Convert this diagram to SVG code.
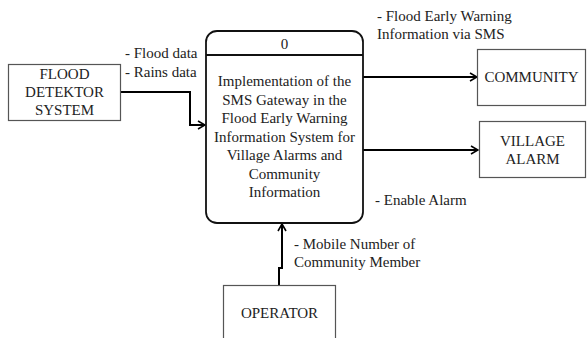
<svg xmlns="http://www.w3.org/2000/svg" width="588" height="338" viewBox="0 0 588 338">
<defs>
<marker id="arr" viewBox="0 0 10 10" refX="9" refY="5" markerWidth="10" markerHeight="10" markerUnits="userSpaceOnUse" orient="auto">
<path d="M2,1 L9,5 L2,9" fill="none" stroke="#000" stroke-width="1.6"/>
</marker>
<style>
.c{text-anchor:middle}
.ext{fill:#fff;stroke:#555;stroke-width:1.2}
.con{fill:none;stroke:#000;stroke-width:2;marker-end:url(#arr)}
</style>
</defs>
<rect width="588" height="338" fill="#fff"/>
<g font-family="Liberation Serif, DejaVu Serif, serif" font-size="15" fill="#222">
<g id="connectors">
<path class="con" d="M121,92 H190 V125 H205"/>
<path class="con" d="M363,77 H477"/>
<path class="con" d="M363,150 H478"/>
<path class="con" d="M279,286 V268 H282 V224"/>
<text x="125" y="58">- Flood data</text>
<text x="125" y="77">- Rains data</text>
<text x="377" y="21">- Flood Early Warning</text>
<text x="377" y="39">Information via SMS</text>
<text x="375" y="205">- Enable Alarm</text>
<text x="294" y="249">- Mobile Number of</text>
<text x="294" y="267">Community Member</text>
</g>
<g id="process">
<rect x="206" y="31" width="157" height="192" rx="11" fill="#fff" stroke="#111" stroke-width="1.8"/>
<line x1="206" y1="55" x2="363" y2="55" stroke="#111" stroke-width="1.8"/>
<text class="c" x="284.5" y="49">0</text>
<text class="c" x="284.5" y="86">Implementation of the</text>
<text class="c" x="284.5" y="104.5">SMS Gateway in the</text>
<text class="c" x="284.5" y="123">Flood Early Warning</text>
<text class="c" x="284.5" y="141.5">Information System for</text>
<text class="c" x="284.5" y="160">Village Alarms and</text>
<text class="c" x="284.5" y="178.5">Community</text>
<text class="c" x="284.5" y="197">Information</text>
</g>
<g id="flood">
<rect class="ext" x="8.5" y="64.5" width="112" height="56"/>
<text class="c" x="64.5" y="79">FLOOD</text>
<text class="c" x="64.5" y="97">DETEKTOR</text>
<text class="c" x="64.5" y="115">SYSTEM</text>
</g>
<g id="community">
<rect class="ext" x="477.5" y="49.5" width="108" height="56"/>
<text class="c" x="531.5" y="82">COMMUNITY</text>
</g>
<g id="village">
<rect class="ext" x="479.5" y="121.5" width="106" height="56"/>
<text class="c" x="532.5" y="146">VILLAGE</text>
<text class="c" x="532.5" y="164">ALARM</text>
</g>
<g id="operator">
<rect class="ext" x="223.5" y="285.5" width="112" height="60"/>
<text class="c" x="279.5" y="318">OPERATOR</text>
</g>
</g>
</svg>
